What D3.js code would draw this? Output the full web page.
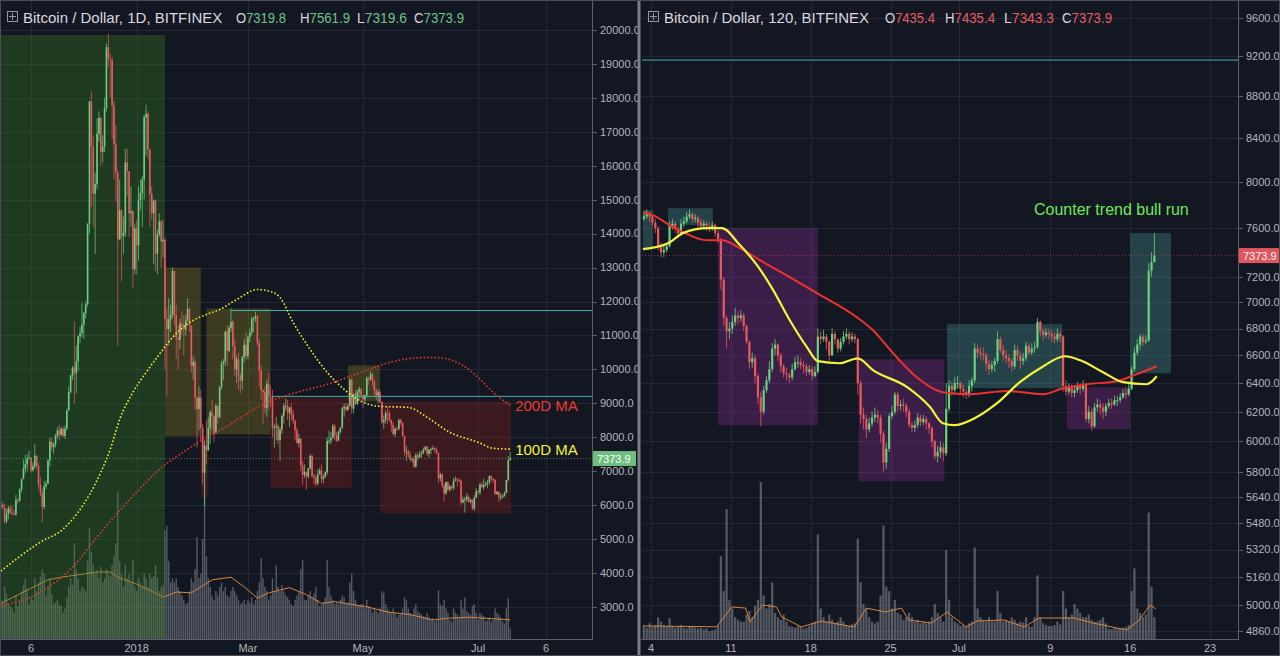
<!DOCTYPE html>
<html><head><meta charset="utf-8">
<script src="https://cdn.jsdelivr.net/npm/d3@7"></script>
<style>html,body{margin:0;padding:0;background:#131722;overflow:hidden}svg{display:block}</style>
</head><body><svg id="c" width="1280" height="656"></svg>
<script>
// ================= DATA =================
// Left panel: BTC/USD daily (Bitfinex), 2017-10-21 .. 2018-07-18
const leftStart = "2017-10-21";
const leftOpen0 = 5980;
const leftClose = [
6008,5930,5526,5750,5904,5780,5753,5726,6154,6130,6468,
6767,7078,7207,7379,7407,7022,7144,7459,7143,6618,6357,5950,6559,6635,7315,7871,7708,7790,8036,8200,8071,8253,8038,8253,8790,9330,9818,10058,9888,10233,
10975,11074,11323,11657,11916,14291,17899,16569,15178,15455,16937,17415,16408,16564,17706,19497,19140,19114,17776,16624,15802,13831,14699,13925,14026,16099,15838,14606,14656,12952,14156,
13657,14982,15201,15599,17429,17527,16477,15170,14595,14973,13405,13980,14360,13772,13819,11490,11188,11474,11607,12899,11600,10931,10868,11359,11259,11171,11441,11786,11296,10106,10221,
9170,8830,9174,8277,6955,7754,7621,8265,8736,8621,8129,8926,8598,9494,10166,10233,11112,10551,11225,11403,10690,10005,10301,9813,9664,10366,10725,10397,
10951,11086,11489,11512,11573,10779,9965,9395,9337,8866,9578,9205,9194,8269,8300,8338,7916,8223,8630,8913,8930,8728,8879,8668,8495,8209,7833,7954,7165,6891,6973,
6845,7083,7456,6853,6811,6636,6911,7023,6770,6834,6968,7889,7895,7986,8329,8058,7902,8163,8294,8845,8895,8802,8930,9697,8845,9281,8987,9348,9419,9240,
9119,9235,9743,9700,9858,9654,9373,9234,9325,9043,8441,8504,8723,8716,8510,8368,8094,8250,8247,8513,8418,8041,7557,7587,7480,7355,7368,7135,7472,7406,7494,
7541,7643,7720,7514,7633,7653,7678,7624,7531,6786,6906,6582,6349,6675,6456,6550,6500,6718,6761,6740,6721,6083,6162,6173,6249,6093,6157,5903,6218,6404,
6385,6614,6529,6597,6639,6673,6857,6773,6741,6329,6394,6228,6238,6276,6359,6741,7319.8,7373.9];
const leftHigh = [
6120,6070,6040,5890,5980,5990,5990,5870,6300,6210,6490,
6780,7350,7480,7500,7600,7420,7250,7800,7450,7260,6830,6500,6720,6720,7350,7980,8000,7850,8100,8300,8380,8300,8320,8350,8850,9500,9850,10100,11400,10700,
11000,11250,11950,11700,12000,14300,17900,18200,16900,15800,17400,17600,17300,16900,18000,19600,19891,19300,19200,17900,17200,15900,15600,14700,14500,16500,16500,15800,15400,14700,14300,
14400,15400,15600,15700,17500,17800,17600,16500,15400,15000,15000,14100,14600,14400,14400,13900,11800,12100,11900,13000,12900,11900,11300,11500,11700,11600,11600,12100,11800,11300,10400,
10300,9200,9500,9400,8400,7900,8500,8600,8800,9100,8650,8990,8950,9500,10250,10300,11150,11300,11300,11800,11450,10900,10400,10500,9900,10400,10900,11100,
11000,11200,11550,11550,11700,11600,10900,10100,9400,9500,9700,9900,9500,9400,8400,8600,8400,8300,8700,9000,9150,9100,8900,9000,8800,8500,8300,8100,7980,7300,7200,
7000,7100,7500,7480,6950,6900,7050,7100,7200,6900,7000,8000,8200,8150,8400,8400,8150,8200,8300,8900,9000,9000,9000,9750,9750,9300,9400,9400,9500,9450,
9250,9250,9800,9800,9950,9900,9680,9450,9400,9400,9050,8650,8800,8900,8800,8520,8450,8300,8350,8550,8550,8450,8050,7750,7650,7600,7400,7450,7550,7550,7600,
7600,7700,7750,7750,7650,7700,7750,7700,7700,7550,6950,6950,6650,6700,6700,6600,6600,6800,6850,6800,6800,6750,6250,6250,6350,6300,6200,6170,6300,6500,
6450,6650,6700,6780,6700,6750,6880,6880,6800,6760,6420,6400,6350,6320,6400,6750,7450,7561.9];
const leftLow = [
5900,5880,5450,5460,5580,5730,5700,5690,5690,6040,6100,
6380,6900,6930,7000,7350,6960,7000,7080,7050,6480,6260,5500,5880,6470,6640,7150,7600,7500,7700,7960,7900,8040,8000,7950,8200,8800,9300,9680,9000,9300,
9950,10780,10950,10900,11500,11850,14000,14800,14200,13400,15300,16700,16000,16100,16400,17600,18900,18000,16800,15600,14950,10700,13800,12600,13400,13900,15100,13900,14200,12400,12800,
12800,13200,14700,14200,15000,16300,16200,14200,14400,13100,12900,12800,13900,13000,13300,10000,9200,10700,11100,11500,11300,10300,10000,10600,11000,10400,11000,11400,11100,9900,9700,
8800,7700,8200,7900,6600,5970,7200,7600,7800,8200,7850,8100,8400,8550,9400,9700,10100,10100,10500,11100,10300,9800,9600,9400,9300,9400,10200,10300,
10300,10800,11000,11100,11400,10700,9500,9100,8400,8700,8600,8800,8900,8000,7700,7900,7800,7300,8100,8400,8800,8500,8300,8500,8400,7900,7800,7700,7000,6600,6800,
6450,6800,7050,6800,6620,6550,6600,6900,6650,6650,6800,6900,7800,7800,7950,7900,7850,7900,8100,8250,8600,8750,8800,8900,8700,8700,8950,8950,9150,9150,
8850,9050,9200,9550,9680,9500,9250,9100,9000,9000,8400,8250,8400,8400,8450,8150,8050,8000,8200,8200,8350,8000,7450,7300,7400,7300,7250,7100,7100,7300,7400,
7400,7500,7600,7450,7400,7500,7630,7550,7500,6650,6700,6500,6100,6300,6420,6400,6460,6440,6700,6550,6670,6000,6050,5780,6100,6080,6050,5860,5830,6200,
6300,6300,6500,6450,6550,6500,6600,6700,6650,6300,6300,6080,6150,6200,6250,6350,6700,7319.6];
// daily volume, thousand BTC
const leftVolume = [
45,42,60,52,40,38,35,30,50,38,44,
55,62,70,58,40,48,45,70,55,65,72,80,75,50,60,70,52,40,42,45,40,38,30,35,48,60,70,62,110,80,
70,55,60,58,55,90,128,100,85,75,80,70,83,65,70,80,75,72,85,95,110,169,90,75,60,85,70,75,65,91,60,
55,70,65,60,75,70,60,75,70,72,85,70,55,60,62,125,130,90,65,70,65,70,60,55,50,45,40,42,55,70,65,
80,117,70,75,115,195,95,70,60,50,45,55,50,60,65,55,60,50,48,55,60,55,50,45,40,42,45,40,
45,42,48,40,45,55,65,93,70,60,55,45,50,70,55,85,60,55,62,55,50,48,45,40,38,45,50,55,80,91,45,
45,50,55,48,52,60,45,38,40,42,48,91,60,50,45,40,42,40,45,50,48,40,42,65,75,55,45,40,38,40,
40,35,45,38,35,30,35,32,30,35,55,53,40,35,32,30,35,30,25,28,30,35,48,45,35,30,28,35,40,32,30,
28,26,25,30,25,22,24,20,22,56,40,38,45,35,30,22,20,35,30,28,25,45,35,48,32,30,28,38,40,30,
22,30,28,26,20,22,25,20,22,35,30,28,25,20,18,35,47,12];
const leftVolMaDates = ["2017-10-21","2017-11-15","2017-11-22","2017-12-11","2017-12-18","2017-12-22","2017-12-31","2018-01-08","2018-01-15","2018-01-22","2018-01-30","2018-02-10","2018-02-20","2018-02-27","2018-03-06","2018-03-12","2018-03-23","2018-04-01","2018-04-09","2018-04-16","2018-04-27","2018-05-03","2018-05-14","2018-05-26","2018-06-07","2018-06-16","2018-06-27","2018-07-18"];
const leftVolMaVals  = [41,68,71,77,77,71,64,56,48,54,53,68,71,60,47,53,59,51,41,43,39,37,31,28,22,24,25,22];
const ma100Dates = ["2017-10-21","2017-11-11","2017-11-23","2017-12-01","2017-12-13","2017-12-18","2017-12-23","2017-12-30","2018-01-06","2018-01-13","2018-01-20","2018-01-29","2018-02-07","2018-02-14","2018-02-23","2018-03-06","2018-03-13","2018-03-18","2018-03-25","2018-04-03","2018-04-12","2018-04-21","2018-04-30","2018-05-10","2018-05-25","2018-06-04","2018-06-16","2018-07-01","2018-07-09","2018-07-18"];
const ma100Vals  = [4059,4912,5294,5794,6971,7647,8529,9324,9912,10441,10941,11382,11618,11765,12059,12353,12294,12118,11382,10588,9912,9412,9059,8912,8882,8588,8147,7853,7676,7650];
const ma200Dates = ["2017-10-21","2017-11-11","2017-11-28","2017-12-11","2017-12-30","2018-01-15","2018-01-28","2018-02-07","2018-02-18","2018-03-07","2018-03-25","2018-04-12","2018-04-30","2018-05-17","2018-06-04","2018-06-13","2018-06-22","2018-07-01","2018-07-09","2018-07-18"];
const ma200Vals  = [3029,3441,4176,5059,6265,7147,7647,8000,8324,8912,9294,9559,9912,10235,10353,10324,10147,9765,9324,8941];
// annotation boxes (date span, price span)
const leftBoxFrom   = ["2017-10-21","2018-01-16","2018-02-07","2018-04-23","2018-03-13","2018-05-10","2018-02-04"];
const leftBoxTo     = ["2018-01-16","2018-02-04","2018-03-13","2018-05-10","2018-04-25","2018-07-18T12","2018-02-08"];
const leftBoxTop    = [19853,13000,11794,10118,9176,9059,8029];
const leftBoxBottom = [2088,8029,8088,9059,6500,5765,6235];
const leftBoxKind   = ["bull","range","range","range","bear","bear","bear"];
const leftLineFrom  = ["2018-02-20","2018-03-14"];
const leftLineLevel = [11735,9206];
const leftPriceTicks = [20000,19000,18000,17000,16000,15000,14000,13000,12000,11000,10000,9000,8000,7000,6000,5000,4000,3000];
const leftTimeTicks  = ["2017-11-06","2018-01-01","2018-03-01","2018-05-01","2018-07-01","2018-08-06"];
const leftTimeLabels = ["6","2018","Mar","May","Jul","6"];

// Right panel: BTC/USD, 6-hour candles, 2018-06-03 06:00 .. 2018-07-18 06:00
const rightStart = "2018-06-03T06";
const rightOpen0 = 7680;
const rightClose = [
7700,7720,7700,
7650,7600,7450,7400, 7420,7450,7620,7640, 7600,7560,7640,7660, 7700,7720,7680,7690, 7650,7620,7640,7620, 7600,7630,7560,7510,
7180,6880,6780,6800, 6850,6900,6880,6900, 6820,6700,6550,6580, 6450,6300,6200,6350, 6420,6500,6650,6680, 6600,6520,6470,6460, 6440,6500,6550,6550,
6530,6520,6480,6500, 6450,6480,6740,6720, 6740,6700,6600,6760, 6720,6650,6700,6740, 6760,6720,6740,6720, 6400,6180,6150,6080, 6120,6160,6180,6160,
6050,5860,5950,6170, 6200,6320,6240,6250, 6240,6200,6110,6090, 6110,6160,6130,6150, 6120,6090,6000,5900, 5930,5960,5920,6220, 6380,6350,6400,6400,
6360,6340,6320,6380, 6420,6650,6620,6610, 6600,6540,6500,6530, 6560,6720,6640,6600, 6580,6560,6520,6640, 6600,6560,6580,6670, 6620,6650,6660,6850,
6780,6750,6770,6760, 6740,6720,6760,6740, 6380,6340,6370,6330, 6350,6380,6360,6390, 6150,6200,6100,6230, 6250,6230,6200,6240, 6260,6250,6280,6280,
6300,6330,6320,6360, 6500,6620,6680,6740, 6700,6710,7250,7319.8,
7373.9];
const rightHigh = [
7740,7760,7740,
7720,7680,7620,7480, 7460,7480,7660,7680, 7660,7620,7680,7700, 7740,7760,7740,7720, 7710,7680,7670,7660, 7650,7660,7640,7580,
7520,7200,6900,6850, 6900,6960,6930,6940, 6920,6830,6710,6620, 6600,6470,6340,6380, 6450,6560,6690,6720, 6690,6620,6540,6510, 6480,6540,6590,6600,
6580,6560,6540,6530, 6520,6520,6800,6780, 6790,6760,6710,6800, 6780,6720,6730,6780, 6800,6780,6770,6760, 6730,6420,6230,6180, 6160,6200,6230,6210,
6180,6070,5990,6190, 6240,6340,6340,6280, 6290,6260,6220,6130, 6140,6190,6180,6180, 6170,6130,6100,6010, 5970,6000,5990,6400, 6420,6410,6440,6450,
6410,6390,6360,6420, 6440,6690,6680,6660, 6660,6620,6570,6560, 6580,6780,6740,6680, 6640,6610,6580,6680, 6670,6630,6620,6700, 6690,6690,6700,6880,
6860,6800,6800,6800, 6790,6770,6800,6780, 6750,6420,6400,6390, 6380,6410,6400,6420, 6400,6240,6220,6260, 6290,6280,6260,6260, 6290,6290,6310,6310,
6330,6360,6370,6400, 6520,6660,6720,6760, 6760,6750,7310,7400,
7561.9];
const rightLow = [
7660,7680,7650,
7620,7560,7420,7360, 7360,7400,7440,7590, 7560,7520,7540,7610, 7640,7680,7650,7650, 7610,7590,7600,7580, 7570,7580,7530,7480,
7100,6820,6650,6720, 6760,6820,6830,6850, 6780,6680,6500,6510, 6400,6250,6100,6180, 6330,6400,6480,6600, 6560,6480,6440,6420, 6400,6420,6490,6510,
6500,6470,6450,6460, 6420,6440,6470,6680, 6700,6640,6560,6600, 6680,6620,6630,6680, 6720,6680,6700,6690, 6320,6120,6080,6020, 6060,6100,6130,6120,
5990,5800,5820,5930, 6150,6180,6200,6210, 6200,6160,6090,6060, 6060,6090,6100,6110, 6080,6050,5960,5880, 5860,5890,5870,5900, 6200,6310,6330,6360,
6320,6300,6290,6300, 6340,6400,6580,6570, 6560,6490,6460,6480, 6480,6540,6620,6560, 6540,6510,6480,6500, 6560,6500,6530,6560, 6600,6600,6620,6650,
6740,6710,6730,6720, 6700,6690,6700,6700, 6340,6310,6320,6300, 6300,6330,6320,6340, 6130,6120,6070,6090, 6200,6180,6150,6170, 6220,6220,6240,6240,
6260,6290,6290,6310, 6350,6480,6600,6640, 6670,6680,6700,7200,
7319.6];
const rightVolume = [
1500,1300,1800,
1400,1600,2500,2000, 1600,1500,2400,1500, 1300,1400,1600,1300, 1200,1500,1400,1300, 1200,1300,1100,1200, 900,1000,1100,1600,
9500,5500,14900,4500, 3500,2500,2200,2000, 2000,2800,3200,2500, 3800,4500,18000,5000, 3500,4000,6500,3000, 2500,2200,2800,2000, 1500,1400,1300,1500,
1400,1200,1300,1500, 1800,2000,12000,3500, 2500,2000,2800,2200, 1800,2000,2500,2000, 1600,1500,1700,1800, 11500,6500,4000,3500, 2500,2000,1800,2000,
5000,13000,6000,5500, 3500,4500,3000,2800, 2200,2500,3000,2500, 2000,2200,1800,2000, 1800,2000,2500,4000, 3000,2500,2000,10200, 4500,2500,2000,1800,
1500,1600,1400,1800, 2000,10500,3500,2500, 2200,2000,2500,2000, 2000,5500,3000,2000, 2200,2000,2500,2200, 1800,2000,1900,2500, 1500,1400,2500,7300,
2500,1800,1600,1500, 1500,1600,2000,1700, 5500,3500,2500,2800, 4000,3500,3000,2500, 2500,2800,2200,2000, 2000,2200,2500,1800, 1200,1100,1300,1200,
1200,1300,1400,1600, 5500,8100,3500,3000, 2500,2800,14500,6000,
2500];
const rightVolMaTimes = ["2018-06-03T07","2018-06-09T18","2018-06-11T02","2018-06-12T07","2018-06-12T16","2018-06-13T19","2018-06-15T00","2018-06-15T11","2018-06-17T05","2018-06-18T21","2018-06-21T20","2018-06-22T21","2018-06-24T13","2018-06-25T23","2018-06-26T14","2018-06-28T14","2018-06-29T23","2018-07-01T15","2018-07-02T14","2018-07-04T23","2018-07-06T17","2018-07-08T00","2018-07-11T02","2018-07-12T18","2018-07-15T17","2018-07-16T19","2018-07-17T18","2018-07-18T06"];
const rightVolMaVals  = [1500,1400,3670,3550,1950,3900,3670,2520,1380,2060,1380,3550,3090,3550,2180,1830,3090,1380,2060,2180,1380,2400,2410,1830,1030,2180,3900,3440];
const rightRedMaTimes = ["2018-06-03T08","2018-06-04T04","2018-06-05T22","2018-06-06T19","2018-06-08T22","2018-06-10T05","2018-06-11T19","2018-06-13T13","2018-06-16T04","2018-06-18T13","2018-06-22T01","2018-06-23T11","2018-06-25T05","2018-06-27T07","2018-06-29T14","2018-07-01T23","2018-07-05T05","2018-07-08T09","2018-07-10T03","2018-07-12T05","2018-07-14T20","2018-07-16T14","2018-07-18T08"];
const rightRedMaVals  = [7740,7713,7611,7569,7501,7501,7435,7337,7199,7073,6886,6787,6617,6442,6336,6322,6344,6322,6364,6392,6414,6464,6521];
const rightYelMaTimes = ["2018-06-03T07","2018-06-05T12","2018-06-06T19","2018-06-08T22","2018-06-10T05","2018-06-11T19","2018-06-13T07","2018-06-14T17","2018-06-16T04","2018-06-17T16","2018-06-18T15","2018-06-20T13","2018-06-22T03","2018-06-23T11","2018-06-26T11","2018-06-28T11","2018-06-29T14","2018-06-30T15","2018-07-02T05","2018-07-04T08","2018-07-06T08","2018-07-08T06","2018-07-10T07","2018-07-11T14","2018-07-13T15","2018-07-15T09","2018-07-17T11","2018-07-18T08"];
const rightYelMaVals  = [7427,7476,7560,7602,7602,7460,7296,7096,6863,6661,6558,6543,6579,6493,6371,6232,6121,6108,6149,6259,6407,6514,6594,6566,6478,6407,6392,6449];
const rightBoxFrom   = ["2018-06-03T07","2018-06-05T12","2018-06-09T21","2018-06-22T05","2018-06-29T23","2018-07-10T11","2018-07-16T00"];
const rightBoxTo     = ["2018-06-04T04","2018-06-09T10","2018-06-18T15","2018-06-29T17","2018-07-10T01","2018-07-16T00","2018-07-19T14"];
const rightBoxTop    = [7756,7773,7602,6572,6833,6371,7560];
const rightBoxBottom = [7435,7627,6108,5740,6364,6081,6471];
const rightBoxKind   = ["up","up","down","down","up","down","up"];
const rightLineLevel = 9162;
const rightPriceTicks = [9600,9200,8800,8400,8000,7600,7200,7000,6800,6600,6400,6200,6000,5800,5640,5480,5320,5160,5000,4860];
const rightTimeTicks  = ["2018-06-04","2018-06-11","2018-06-18","2018-06-25","2018-07-01","2018-07-09","2018-07-16","2018-07-23"];
const rightTimeLabels = ["4","11","18","25","Jul","9","16","23"];
const lastPrice = 7373.9;
const leftLegend  = {title:"Bitcoin / Dollar, 1D, BITFINEX",  o:"7319.8", h:"7561.9", l:"7319.6", c:"7373.9"};
const rightLegend = {title:"Bitcoin / Dollar, 120, BITFINEX", o:"7435.4", h:"7435.4", l:"7343.3", c:"7373.9"};

// ================= RENDER =================
const P = s => new Date(s.length === 10 ? s + "T00:00Z" : s + ":00Z");
const BG = "#131722", GRID = "#242835", AXIS = "#5d606b", TXT = "#b2b5be";
const UP = "#6bcf7f", DN = "#e8585f";
const FONT = "Liberation Sans, Arial, sans-serif";
const boxFill = {bull:"rgba(56,140,34,0.30)", range:"rgba(156,140,34,0.30)", bear:"rgba(142,33,27,0.33)",
                 up:"rgba(76,166,160,0.30)", down:"rgba(149,46,160,0.30)"};
const svg = d3.select("#c");
svg.append("rect").attr("width",1280).attr("height",656).attr("fill",BG);
const defs = svg.append("defs");
defs.append("clipPath").attr("id","clipL").append("rect").attr("x",1).attr("y",1).attr("width",591.5).attr("height",638.5);
defs.append("clipPath").attr("id","clipR").append("rect").attr("x",642).attr("y",1).attr("width",596.5).attr("height",638.5);

function panel(cfg){
  const {x, y, clip, plotL, plotR, bars, bodyW, volY} = cfg;
  const g = svg.append("g").attr("clip-path", `url(#${clip})`);
  g.selectAll(".hg").data(cfg.priceTicks).join("line")
    .attr("x1",plotL).attr("x2",plotR).attr("y1",d=>Math.round(y(d))+0.5).attr("y2",d=>Math.round(y(d))+0.5)
    .attr("stroke",GRID).attr("stroke-width",1);
  g.selectAll(".vg").data(cfg.timeTicks.map(P)).join("line")
    .attr("x1",d=>Math.round(x(d))+0.5).attr("x2",d=>Math.round(x(d))+0.5).attr("y1",0).attr("y2",640)
    .attr("stroke",GRID).attr("stroke-width",1);
  g.selectAll(".vb").data(bars).join("rect")
    .attr("x",d=>x(d.t)-cfg.volW/2).attr("width",cfg.volW)
    .attr("y",d=>volY(d.v)).attr("height",d=>volY(0)-volY(d.v))
    .attr("fill","#9a9da6").attr("fill-opacity",0.5);
  g.append("path").datum(cfg.volMa).attr("fill","none").attr("stroke","#d9843f").attr("stroke-width",1)
    .attr("d",d3.line().x(d=>x(d[0])).y(d=>volY(d[1])));
  g.selectAll(".bx").data(cfg.boxes).join("rect")
    .attr("x",d=>x(d.from)).attr("width",d=>x(d.to)-x(d.from))
    .attr("y",d=>y(d.top)).attr("height",d=>y(d.bottom)-y(d.top))
    .attr("fill",d=>boxFill[d.kind]);
  g.selectAll(".wk").data(bars).join("line")
    .attr("x1",d=>x(d.t)).attr("x2",d=>x(d.t))
    .attr("y1",d=>y(Math.max(d.h,d.o,d.c))).attr("y2",d=>y(Math.min(d.l,d.o,d.c)))
    .attr("stroke",d=>d.c>=d.o?UP:DN).attr("stroke-width",cfg.wickW).attr("stroke-opacity",0.9);
  g.selectAll(".bd").data(bars).join("rect")
    .attr("x",d=>x(d.t)-bodyW/2).attr("width",bodyW)
    .attr("y",d=>y(Math.max(d.o,d.c))).attr("height",d=>Math.max(1,Math.abs(y(d.o)-y(d.c))))
    .attr("fill",d=>d.c>=d.o?UP:DN);
  return g;
}

// ---------- LEFT ----------
const xL = d3.scaleUtc().domain([P("2017-11-06"),P("2018-08-06")]).range([31,546]);
const yL = d3.scaleLinear().domain([3000,20000]).range([607,30]);
const vyL = d3.scaleLinear().domain([0,200]).range([639,465]);
const leftBars = leftClose.map((c,i)=>({t:d3.utcDay.offset(P(leftStart),i), o:i?leftClose[i-1]:leftOpen0, c, h:leftHigh[i], l:leftLow[i], v:leftVolume[i]}));
const leftBoxes = leftBoxFrom.map((f,i)=>({from:P(f),to:P(leftBoxTo[i]),top:leftBoxTop[i],bottom:leftBoxBottom[i],kind:leftBoxKind[i]}));
const gl = panel({x:xL,y:yL,clip:"clipL",plotL:1,plotR:592,bars:leftBars,bodyW:1.6,wickW:0.8,volW:1.4,volY:vyL,
  priceTicks:leftPriceTicks,timeTicks:leftTimeTicks,boxes:leftBoxes,
  volMa:leftVolMaDates.map((d,i)=>[P(d),leftVolMaVals[i]])});
gl.selectAll(".hl").data(leftLineLevel).join("line")
  .attr("x1",(d,i)=>xL(P(leftLineFrom[i]))).attr("x2",592).attr("y1",d=>yL(d)).attr("y2",d=>yL(d))
  .attr("stroke","#45b0ad").attr("stroke-width",1);
gl.append("line").attr("x1",1).attr("x2",592).attr("y1",yL(lastPrice)).attr("y2",yL(lastPrice))
  .attr("stroke","#5e9a6c").attr("stroke-width",1).attr("stroke-dasharray","1,2").attr("opacity",0.8);
const ma100 = ma100Dates.map((d,i)=>[P(d),ma100Vals[i]]);
const ma200 = ma200Dates.map((d,i)=>[P(d),ma200Vals[i]]);
const lineL = d3.line().curve(d3.curveMonotoneX).x(d=>xL(d[0])).y(d=>yL(d[1]));
gl.append("path").datum(ma200).attr("d",lineL).attr("fill","none").attr("stroke","#e0392f").attr("stroke-width",1.6).attr("stroke-dasharray","1.6,2");
gl.append("path").datum(ma100).attr("d",lineL).attr("fill","none").attr("stroke","#eded3a").attr("stroke-width",1.6).attr("stroke-dasharray","1.6,2");
const l200 = ma200[ma200.length-1], l100 = ma100[ma100.length-1];
svg.append("text").attr("x",xL(l200[0])+5).attr("y",yL(l200[1])).attr("dy","0.36em")
  .attr("fill","#f0382b").attr("font-family",FONT).attr("font-size",15).text("200D MA");
svg.append("text").attr("x",xL(l100[0])+5).attr("y",yL(l100[1])).attr("dy","0.36em")
  .attr("fill","#f2f23e").attr("font-family",FONT).attr("font-size",15).text("100D MA");

// ---------- RIGHT ----------
const xR = d3.scaleUtc().domain([P("2018-06-04"),P("2018-07-23")]).range([651,1210]);
const yR = d3.scaleLog().domain([4860,9600]).range([631,18]);
const vyR = d3.scaleLinear().domain([0,18000]).range([639,482]);
const rightBars = rightClose.map((c,i)=>({t:d3.utcHour.offset(P(rightStart),6*i+3), o:i?rightClose[i-1]:rightOpen0, c, h:rightHigh[i], l:rightLow[i], v:rightVolume[i]}));
const rightBoxes = rightBoxFrom.map((f,i)=>({from:P(f),to:P(rightBoxTo[i]),top:rightBoxTop[i],bottom:rightBoxBottom[i],kind:rightBoxKind[i]}));
const gr = panel({x:xR,y:yR,clip:"clipR",plotL:642,plotR:1238,bars:rightBars,bodyW:2.2,wickW:0.9,volW:2.2,volY:vyR,
  priceTicks:rightPriceTicks,timeTicks:rightTimeTicks,boxes:rightBoxes,
  volMa:rightVolMaTimes.map((d,i)=>[P(d),rightVolMaVals[i]])});
gr.append("line").attr("x1",642).attr("x2",1238).attr("y1",yR(rightLineLevel)).attr("y2",yR(rightLineLevel))
  .attr("stroke","#45b0ad").attr("stroke-width",1);
gr.append("line").attr("x1",642).attr("x2",1238).attr("y1",yR(lastPrice)).attr("y2",yR(lastPrice))
  .attr("stroke","#9a3c48").attr("stroke-width",1).attr("stroke-dasharray","1,2").attr("opacity",0.9);
const lineR = d3.line().curve(d3.curveMonotoneX).x(d=>xR(d[0])).y(d=>yR(d[1]));
gr.append("path").datum(rightRedMaTimes.map((d,i)=>[P(d),rightRedMaVals[i]])).attr("d",lineR)
  .attr("fill","none").attr("stroke","#ef3131").attr("stroke-width",2);
gr.append("path").datum(rightYelMaTimes.map((d,i)=>[P(d),rightYelMaVals[i]])).attr("d",lineR)
  .attr("fill","none").attr("stroke","#f4f43c").attr("stroke-width",2.2);
svg.append("text").attr("x",1034).attr("y",215).attr("fill","#6ee85a")
  .attr("font-family",FONT).attr("font-size",16).text("Counter trend bull run");

// ---------- AXES ----------
function axes(x, y, plotL, plotR, priceTicks, timeTicks, timeLabels, boxColor){
  const a = svg.append("g").attr("font-family",FONT).attr("font-size",11).attr("fill",TXT);
  a.append("line").attr("x1",plotR+0.5).attr("x2",plotR+0.5).attr("y1",0).attr("y2",640).attr("stroke",AXIS);
  a.append("line").attr("x1",plotL-1).attr("x2",plotR+0.5).attr("y1",639.5).attr("y2",639.5).attr("stroke",AXIS);
  a.selectAll(".yt").data(priceTicks).join("line").attr("x1",plotR+1).attr("x2",plotR+5)
    .attr("y1",d=>Math.round(y(d))+0.5).attr("y2",d=>Math.round(y(d))+0.5).attr("stroke",AXIS);
  a.selectAll(".yl").data(priceTicks).join("text").attr("x",plotR+8).attr("y",d=>y(d)).attr("dy","0.35em")
    .text(d=>d3.format(".1f")(d));
  a.selectAll(".xl").data(timeTicks).join("text").attr("x",d=>x(P(d))).attr("y",652).attr("text-anchor","middle")
    .text((d,i)=>timeLabels[i]);
  const py = y(lastPrice);
  a.append("rect").attr("x",plotR+1).attr("y",py-7.5).attr("width",plotR<700?43:40).attr("height",15).attr("fill",boxColor);
  a.append("text").attr("x",plotR+5).attr("y",py).attr("dy","0.36em").attr("fill","#ffffff").text(d3.format(".1f")(lastPrice));
}
axes(xL,yL,1,592,leftPriceTicks,leftTimeTicks,leftTimeLabels,"#6dbf80");
axes(xR,yR,642,1238,rightPriceTicks,rightTimeTicks,rightTimeLabels,"#e4545c");

// ---------- LEGENDS ----------
function legend(x0, lg, valColor, pos){
  const g = svg.append("g").attr("font-family",FONT).attr("font-size",15);
  g.append("rect").attr("x",x0+0.5).attr("y",11.5).attr("width",10).attr("height",10).attr("fill","none").attr("stroke","#9598a1");
  g.append("line").attr("x1",x0+5.5).attr("x2",x0+5.5).attr("y1",13).attr("y2",20).attr("stroke","#9598a1");
  g.append("line").attr("x1",x0+2).attr("x2",x0+9).attr("y1",16.5).attr("y2",16.5).attr("stroke","#9598a1");
  g.append("text").attr("x",x0+16).attr("y",23).attr("fill","#d9d9de").text(lg.title);
  ["o","h","l","c"].forEach((k,i)=>{
    const t = g.append("text").attr("x",pos[i]).attr("y",23).attr("textLength",50).attr("lengthAdjust","spacingAndGlyphs");
    t.append("tspan").attr("fill","#d9d9de").text(k.toUpperCase());
    t.append("tspan").attr("fill",valColor).text(lg[k]);
  });
}
legend(7, leftLegend, "#6fc38a", [236,300,357,414]);
legend(648, rightLegend, "#e65c62", [885,945,1004,1062]);

svg.append("rect").attr("x",637.5).attr("y",0).attr("width",3).attr("height",656).attr("fill","#7b7e87");
svg.append("rect").attr("x",0.5).attr("y",0.5).attr("width",1279).attr("height",655).attr("fill","none").attr("stroke","#4a4d57");
</script></body></html>
